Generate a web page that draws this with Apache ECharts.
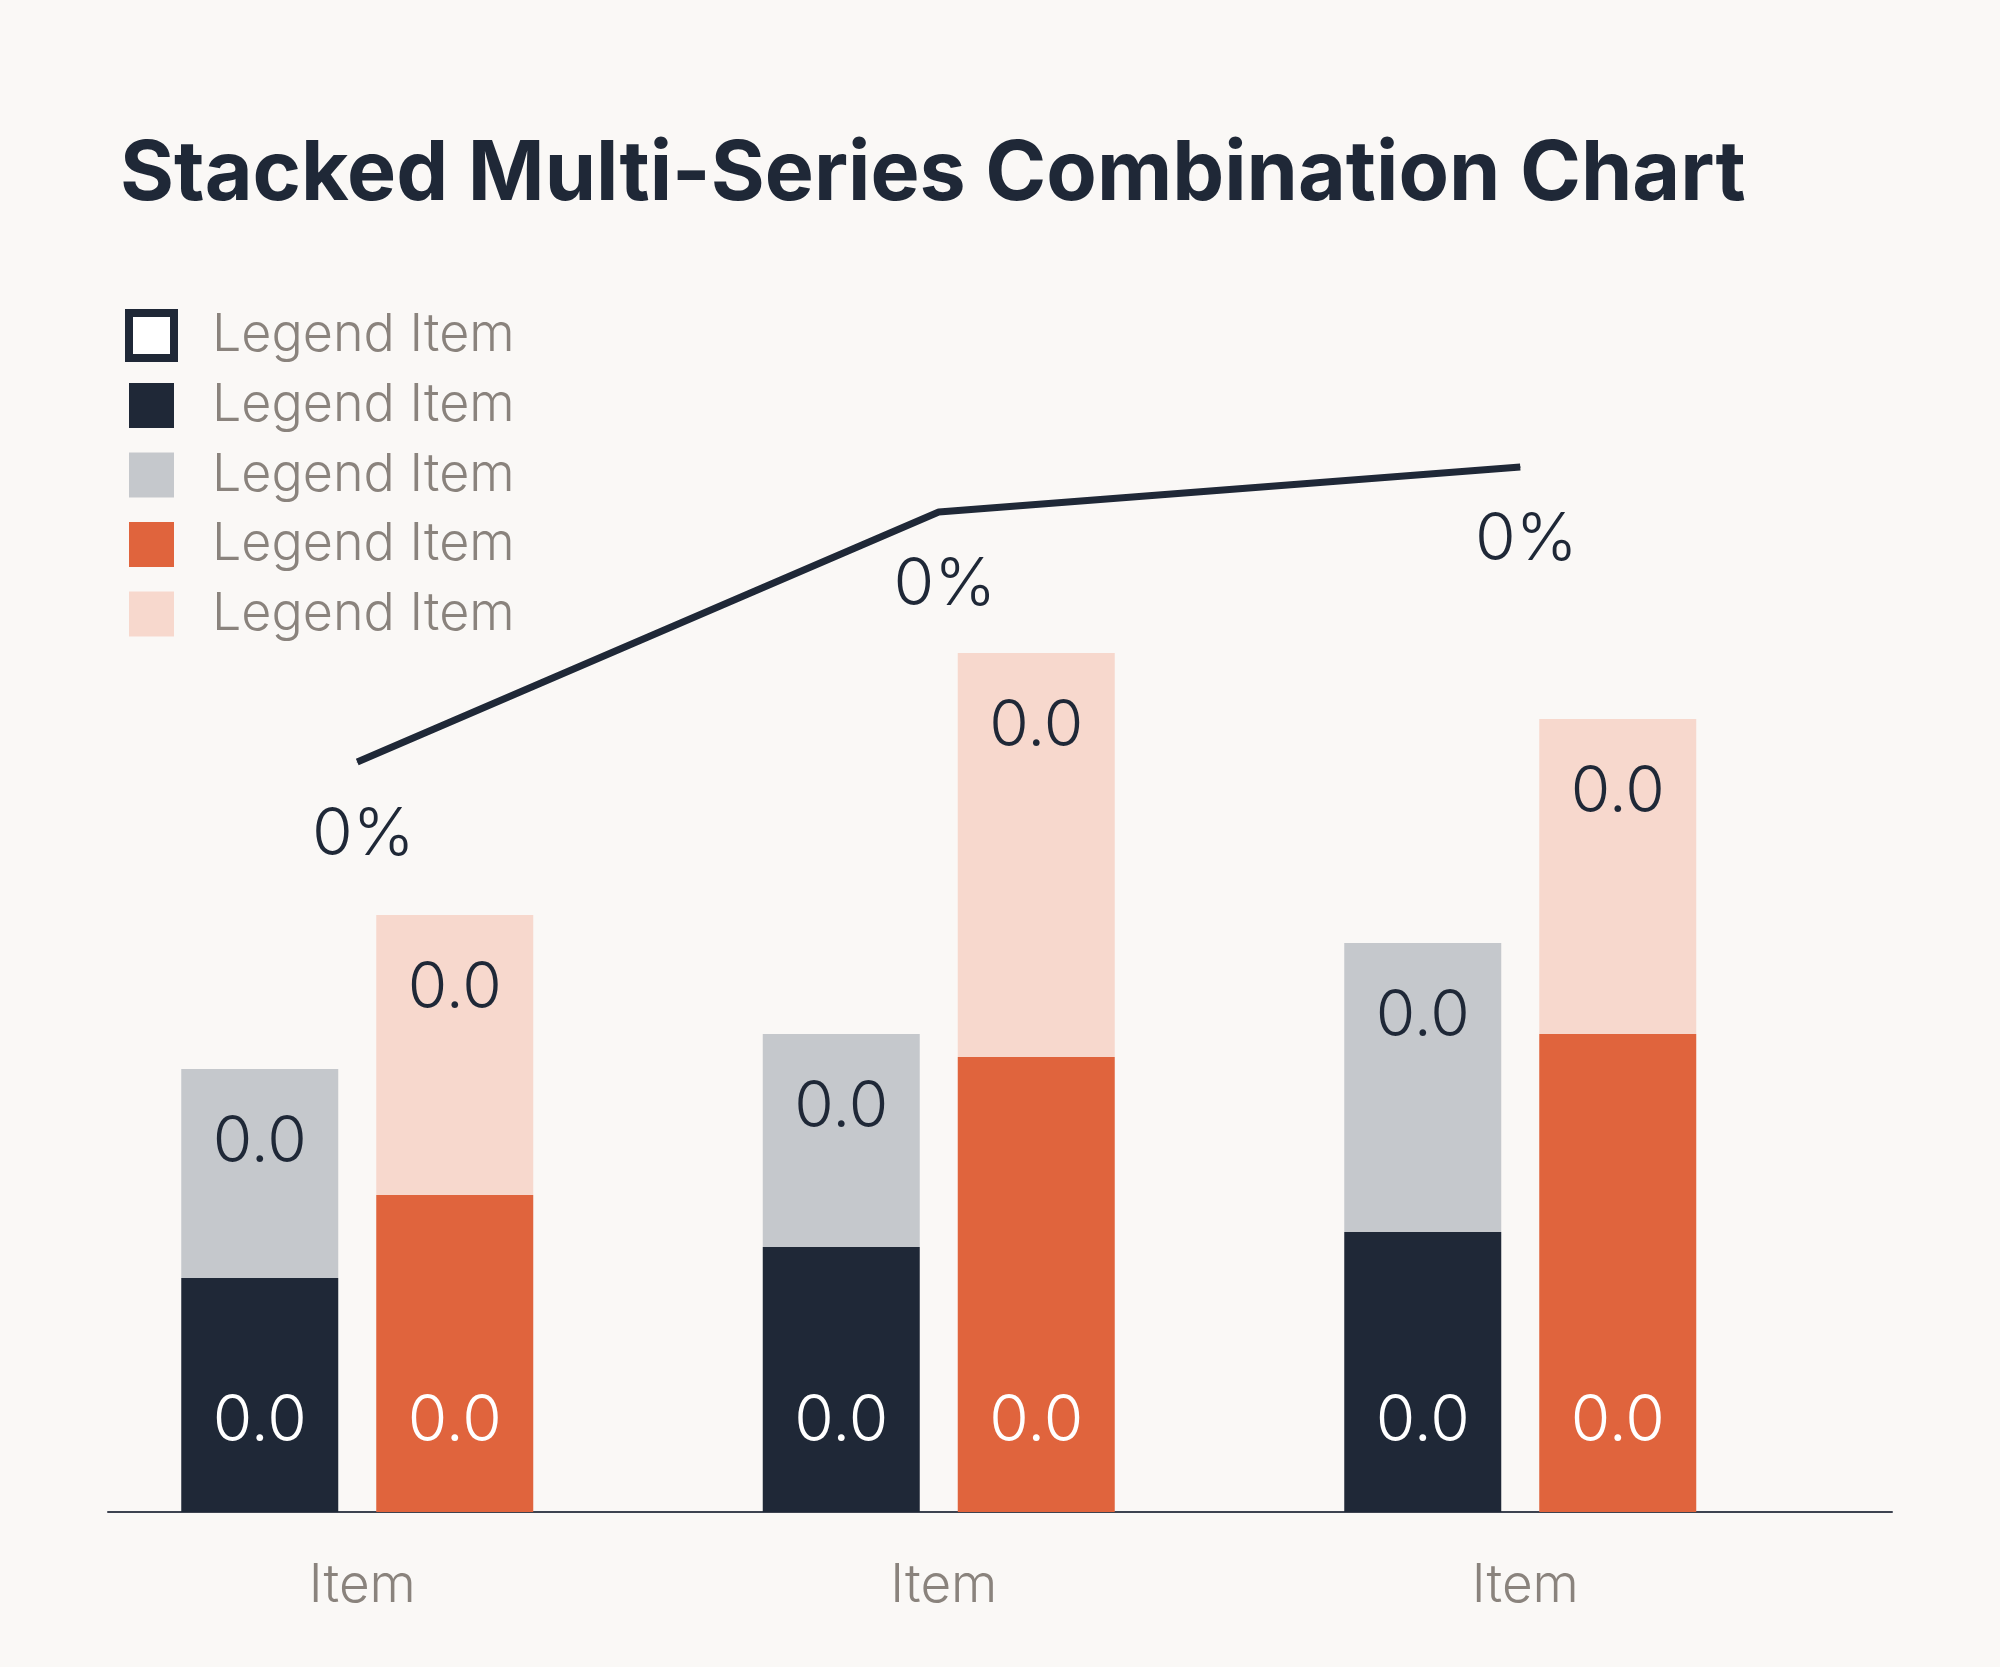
<!DOCTYPE html>
<html>
<head>
<meta charset="utf-8">
<title>Stacked Multi-Series Combination Chart</title>
<script src="https://cdn.jsdelivr.net/npm/echarts@6/dist/echarts.min.js"></script>
<style>
  html, body { margin: 0; padding: 0; background: #faf8f6; }
  #chart { width: 2000px; height: 1667px; }
</style>
</head>
<body>
<div id="chart"></div>
<script>
// categories + values (labels in the picture all round to 0.0 / 0%)
var categories = ['Item', 'Item', 'Item'];
var darkValues = [0.0234, 0.0265, 0.0280];
var grayValues = [0.0209, 0.0213, 0.0289];
var orangeValues = [0.0317, 0.0455, 0.0478];
var peachValues = [0.0280, 0.0404, 0.0315];
var lineValues = [0.0030, 0.0040, 0.00418];

var seriesKeys = ['s0', 's1', 's2', 's3', 's4'];
var legendLabels = ['Legend Item', 'Legend Item', 'Legend Item', 'Legend Item', 'Legend Item'];

var dark = '#1f2837';
var labelFont = 'Inter, "Noto Sans", sans-serif';

var chart = echarts.init(document.getElementById('chart'));

function barLabel(pos, dist, color) {
  return {
    show: true,
    position: pos,
    distance: dist,
    color: color,
    fontFamily: labelFont,
    fontWeight: 300,
    fontSize: 64,
    lineHeight: 64,
    formatter: function (p) { return p.value.toFixed(1); }
  };
}

var option = {
  backgroundColor: '#faf8f6',
  animation: false,
  title: {
    text: 'Stacked Multi-Series Combination Chart',
    left: 120,
    top: 133,
    padding: 0,
    textStyle: {
      color: dark,
      fontFamily: 'Inter, sans-serif',
      fontWeight: 700,
      fontSize: 82.5,
      lineHeight: 84
    }
  },
  legend: {
    orient: 'vertical',
    left: 125,
    top: 309,
    padding: 0,
    itemWidth: 45,
    itemHeight: 45,
    itemGap: 17.5,
    icon: 'rect',
    selectedMode: false,
    formatter: function (name) { return legendLabels[seriesKeys.indexOf(name)]; },
    textStyle: {
      color: '#8a837d',
      fontFamily: labelFont,
      fontWeight: 300,
      fontSize: 52,
      lineHeight: 45,
      padding: [0, 0, 0, 33]
    },
    data: [
      { name: 's0', icon: 'rect', itemStyle: { color: '#ffffff', borderColor: dark, borderWidth: 8 } },
      { name: 's1' },
      { name: 's2' },
      { name: 's3' },
      { name: 's4' }
    ]
  },
  grid: [
    { left: 66.5, right: 189, top: 312, bottom: 155 },
    { left: 108, right: 108, top: 312, bottom: 155 }
  ],
  xAxis: [
    {
      type: 'category',
      gridIndex: 0,
      data: categories,
      axisLine: { show: false },
      axisTick: { show: false },
      axisLabel: {
        color: '#8a837d',
        fontFamily: labelFont,
        fontWeight: 300,
        fontSize: 53,
        lineHeight: 53,
        margin: 48,
        padding: [0, 0, 0, 10]
      }
    },
    {
      type: 'value',
      gridIndex: 1,
      min: 0,
      max: 1,
      axisLine: { show: true, onZero: false, lineStyle: { color: '#3d4350', width: 2 } },
      axisTick: { show: false },
      axisLabel: { show: false },
      splitLine: { show: false }
    }
  ],
  yAxis: [
    { type: 'value', gridIndex: 0, min: 0, max: 0.12, show: false },
    { type: 'value', gridIndex: 0, min: 0, max: 0.0048, show: false },
    { type: 'value', gridIndex: 1, min: 0, max: 1, show: false }
  ],
  series: [
    {
      name: 's0',
      type: 'line',
      yAxisIndex: 1,
      data: lineValues,
      z: 5,
      symbol: 'circle',
      symbolSize: 1,
      lineStyle: { color: dark, width: 7 },
      itemStyle: { color: dark },
      label: {
        show: true,
        position: 'bottom',
        distance: 40,
        offset: [6, 0],
        color: dark,
        fontFamily: labelFont,
        fontWeight: 300,
        fontSize: 66,
        lineHeight: 66,
        formatter: function (p) { return Math.round(p.value * 100) + '%'; }
      }
    },
    {
      name: 's1', type: 'bar', stack: 'a', data: darkValues,
      barWidth: 157, barGap: '24.2%',
      itemStyle: { color: dark },
      label: barLabel('insideBottom', 58, '#ffffff')
    },
    {
      name: 's2', type: 'bar', stack: 'a', data: grayValues,
      barWidth: 157, barGap: '24.2%',
      itemStyle: { color: '#c5c8cc' },
      label: barLabel('insideTop', 42, dark)
    },
    {
      name: 's3', type: 'bar', stack: 'b', data: orangeValues,
      barWidth: 157, barGap: '24.2%',
      itemStyle: { color: '#e0643d' },
      label: barLabel('insideBottom', 58, '#ffffff')
    },
    {
      name: 's4', type: 'bar', stack: 'b', data: peachValues,
      barWidth: 157, barGap: '24.2%',
      itemStyle: { color: '#f7d8cd' },
      label: barLabel('insideTop', 42, dark)
    }
  ]
};

chart.setOption(option);
</script>
</body>
</html>
